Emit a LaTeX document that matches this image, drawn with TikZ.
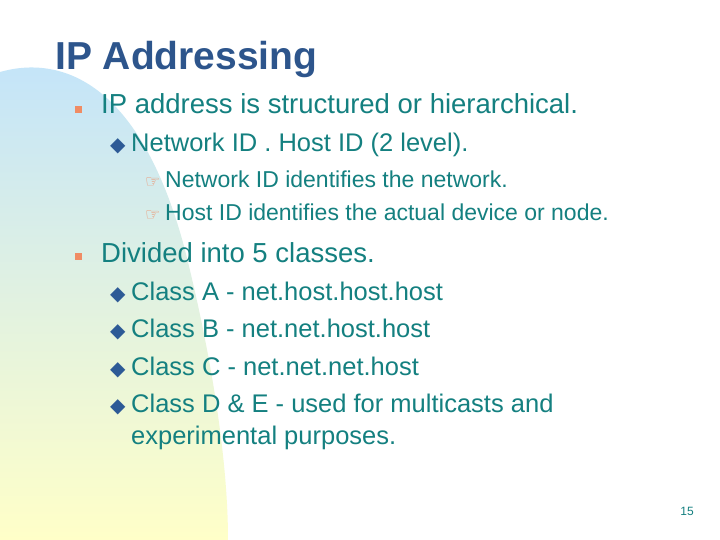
\documentclass[tikz,border=0pt]{standalone}
\usepackage{fontspec}
\setmainfont{Liberation Sans}
\newfontfamily\djsym{DejaVu Sans}
\definecolor{tx}{RGB}{20,128,128}
\definecolor{ttl}{RGB}{45,85,140}
\definecolor{orb}{RGB}{240,140,100}
\definecolor{dia}{RGB}{45,90,150}
\definecolor{bgtop}{RGB}{195,228,250}
\definecolor{bgbot}{RGB}{255,255,200}
\begin{document}
\begin{tikzpicture}[x=1pt,y=-1pt,
  l1/.style={anchor=base west,text=tx,font=\fontsize{27.5}{30}\selectfont,inner sep=0},
  l2/.style={anchor=base west,text=tx,font=\fontsize{25.5}{28}\selectfont,inner sep=0},
  l3/.style={anchor=base west,text=tx,font=\fontsize{23}{26}\selectfont,inner sep=0},
  sq/.style={fill=orb,minimum size=7pt,inner sep=0,anchor=center},
  dm/.style={anchor=base west,text=dia,font=\djsym\fontsize{20}{22}\selectfont,inner sep=0},
  hd/.style={anchor=base west,text=orb,font=\djsym\fontsize{17}{20}\selectfont,inner sep=0}]
\useasboundingbox (0,0) rectangle (720,540);
\fill[white] (0,0) rectangle (720,540);
\shade[top color=bgtop,bottom color=bgbot] (0,72) .. controls (60,55) and (140,80) .. (185,250) .. controls (215,370) and (228,470) .. (228,540) -- (0,540) -- cycle;
\node[anchor=base west,text=ttl,font=\bfseries\fontsize{39}{44}\selectfont,inner sep=0] (t) at (55,70) {IP Addressing};
\node[sq] (b1) at (78,110) {};
\node[l1] (a) at (101,114) {IP address is structured or hierarchical.};
\node[dm] (d1) at (110,152) {◆};
\node[l2] (a1) at (131,152) {Network ID . Host ID (2 level).};
\node[hd] (h1) at (145,188) {☞};
\node[l3] (a11) at (165,188) {Network ID identifies the network.};
\node[hd] (h2) at (145,221) {☞};
\node[l3] (a12) at (165,221) {Host ID identifies the actual device or node.};
\node[sq] (b2) at (78,256) {};
\node[l1] (b) at (101,262) {Divided into 5 classes.};
\node[dm] (d2) at (110,300) {◆};
\node[l2] (c1) at (131,300) {Class A - net.host.host.host};
\node[dm] (d3) at (110,337) {◆};
\node[l2] (c2) at (131,337) {Class B - net.net.host.host};
\node[dm] (d4) at (110,375) {◆};
\node[l2] (c3) at (131,375) {Class C - net.net.net.host};
\node[dm] (d5) at (110,412) {◆};
\node[l2] (c4) at (131,412) {Class D \& E - used for multicasts and};
\node[l2] (c5) at (131,444) {experimental purposes.};
\node[anchor=base east,text=tx,font=\fontsize{12}{14}\selectfont,inner sep=0] (pg) at (694,515) {15};
\end{tikzpicture}
\end{document}
